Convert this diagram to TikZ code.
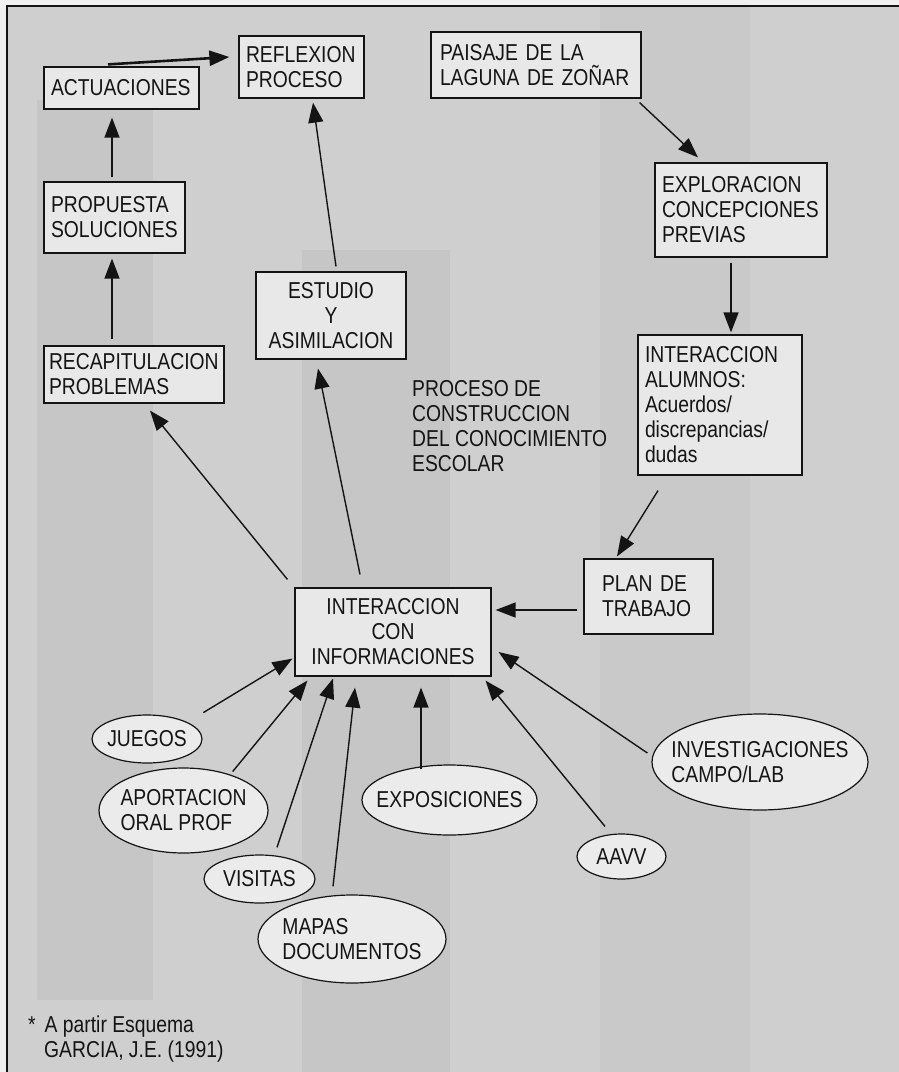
\documentclass[tikz,border=0pt]{standalone}
\usepackage{fontspec}
\setmainfont{Liberation Sans}[FakeStretch=0.84]
\usetikzlibrary{shapes.geometric,arrows.meta,calc}
\definecolor{paper}{gray}{0.81}
\definecolor{band}{gray}{0.775}
\definecolor{margin}{gray}{0.94}
\definecolor{boxfill}{gray}{0.91}
\definecolor{ovalfill}{gray}{0.92}
\definecolor{ink}{gray}{0.08}
\newcommand*\diagfont{\fontsize{23}{25}\selectfont}
\newcommand*\edgew{1.2pt}
\newcommand*\arroww{1.4pt}
\tikzset{
    box/.style   = {draw=ink, fill=boxfill, line width=\edgew, text=ink,
                    align=left, inner xsep=7pt, inner ysep=0pt, font=\diagfont},
    cbox/.style  = {box, align=center},
    oval/.style  = {ellipse, draw=ink, fill=ovalfill, line width=\edgew, text=ink,
                    align=left, inner xsep=-40pt, inner ysep=0pt, font=\diagfont},
    plaintext/.style = {inner sep=0pt, align=left, anchor=north west,
                    font=\diagfont, text=ink},
    arrow/.style = {draw=ink, line width=\arroww, -{Triangle[length=20pt,width=15pt]}},
    thickarrow/.style = {arrow, line width=2.6pt},
  }
\begin{document}
\begin{tikzpicture}[x=1pt, y=-1pt]
      % page, scan bands and frame
      \useasboundingbox (0,0) rectangle (899,1072);
      \fill[margin] (0,0) rectangle (899,1072);
      \fill[paper] (7,6) rectangle (899,1072);
      \fill[band] (37,100) rectangle (153,1000);
      \fill[band] (302,250) rectangle (450,1072);
      \fill[band!60!paper] (600,6) rectangle (750,1072);
      \draw[ink, line width=1.5pt] (7,1072) -- (7,6) -- (899,6);

      % boxes on the left
      \node[box, text width=141pt, minimum height=42pt] (actu) at (121.5,88) {ACTUACIONES};
      \node[box, text width=111pt, minimum height=62pt] (refl) at (301.5,67) {REFLEXION\\PROCESO};
      \node[box, text width=127pt, minimum height=71pt] (prop) at (114.5,217.5) {PROPUESTA\\SOLUCIONES};
      \node[cbox, text width=136pt, minimum height=87pt] (estu) at (331,315.5) {ESTUDIO\\Y\\ASIMILACION};
      \node[box, inner xsep=5pt, text width=170pt, minimum height=57pt] (recap) at (134,374.5) {RECAPITULACION\\PROBLEMAS};

      % boxes on the right
      \node[box, inner xsep=9pt, text width=192pt, minimum height=66pt] (pais) at (536,65) {PAISAJE DE LA\\LAGUNA DE ZOÑAR};
      \node[box, text width=158pt, minimum height=94pt] (expl) at (741,210) {EXPLORACION\\CONCEPCIONES\\PREVIAS};
      \node[box, text width=150pt, minimum height=140pt] (alum) at (720,405) {INTERACCION\\ALUMNOS:\\Acuerdos/\\discrepancias/\\dudas};
      \node[box, inner xsep=18pt, text width=93pt, minimum height=75pt] (plan) at (648.5,596.5) {PLAN DE\\TRABAJO};
      \node[cbox, text width=182pt, minimum height=88pt] (info) at (393,632) {INTERACCION\\CON\\INFORMACIONES};

      % sources of information
      \node[oval, minimum width=110pt, minimum height=48pt] (jue) at (147,739) {JUEGOS};
      \node[oval, minimum width=169pt, minimum height=85pt] (apo) at (183.5,810.5) {APORTACION\\ORAL PROF};
      \node[oval, minimum width=111pt, minimum height=48pt] (vis) at (259.5,879) {VISITAS};
      \node[oval, minimum width=188pt, minimum height=88pt] (map) at (352,939) {MAPAS\\DOCUMENTOS};
      \node[oval, minimum width=175pt, minimum height=70pt] (exp) at (449.5,800) {EXPOSICIONES};
      \node[oval, minimum width=89pt, minimum height=45pt] (aav) at (621.5,856.5) {AAVV};
      \node[oval, minimum width=216pt, minimum height=96pt] (inv) at (760,762) {INVESTIGACIONES\\CAMPO/LAB};

      % free texts
      \node[plaintext] (titulo) at (412,380) {PROCESO DE\\CONSTRUCCION\\DEL CONOCIMIENTO\\ESCOLAR};
      \node[plaintext] (nota) at (28,1016) {*\hspace{9pt}A partir Esquema\\\hspace*{16pt}GARCIA, J.E. (1991)};

      % left column
      \draw[thickarrow] ($(actu.north)+(-13.5,-2)$) -- ($(refl.west)+(-9,-10)$);
      \draw[arrow] ($(prop.north)+(-2.5,-4)$) -- ($(actu.south)+(-9.5,8)$);
      \draw[arrow] ($(recap.north)+(-22,-6)$) -- ($(prop.south)+(-2.5,5)$);
      \draw[arrow] ($(estu.north)+(5,-5)$) -- ($(refl.south)+(11.5,4)$);
      \draw[arrow] ($(info.north west)+(-7,-8)$) -- ($(recap.south)+(16,7)$);
      \draw[arrow] ($(info.north)+(-33,-13)$) -- ($(estu.south)+(-13,9)$);

      % right column
      \draw[arrow] ($(pais.south east)+(-2,4)$) -- ($(expl.north)+(-43,-5)$);
      \draw[arrow] ($(expl.south)+(-10,5)$) -- ($(alum.north)+(11,-2)$);
      \draw[arrow] ($(alum.south)+(-62,15)$) -- ($(plan.north)+(-31.5,-2)$);
      \draw[arrow] ($(plan.west)+(-6,13.5)$) -- ($(info.east)+(4,-22)$);

      % every source feeds INTERACCION CON INFORMACIONES
      \foreach \src/\sx/\sy/\tgt/\tx/\ty in {
          jue.north east/17/-9/info.south west/-2/-18,
          apo.north east/-11/-8.5/info.south west/13/4,
          vis.north/17.5/-7/info.south/-60/2,
          map.north/-19/-8/info.south/-38/11,
          exp.north/-28.5/5/info.south/28/11,
          aav.north/-16.5/-7/info.south east/-6/4,
          inv.west/-4/-9/info.east/7/20} {
        \draw[arrow] ($(\src)+(\sx,\sy)$) -- ($(\tgt)+(\tx,\ty)$);
      }
    \end{tikzpicture}
\end{document}
